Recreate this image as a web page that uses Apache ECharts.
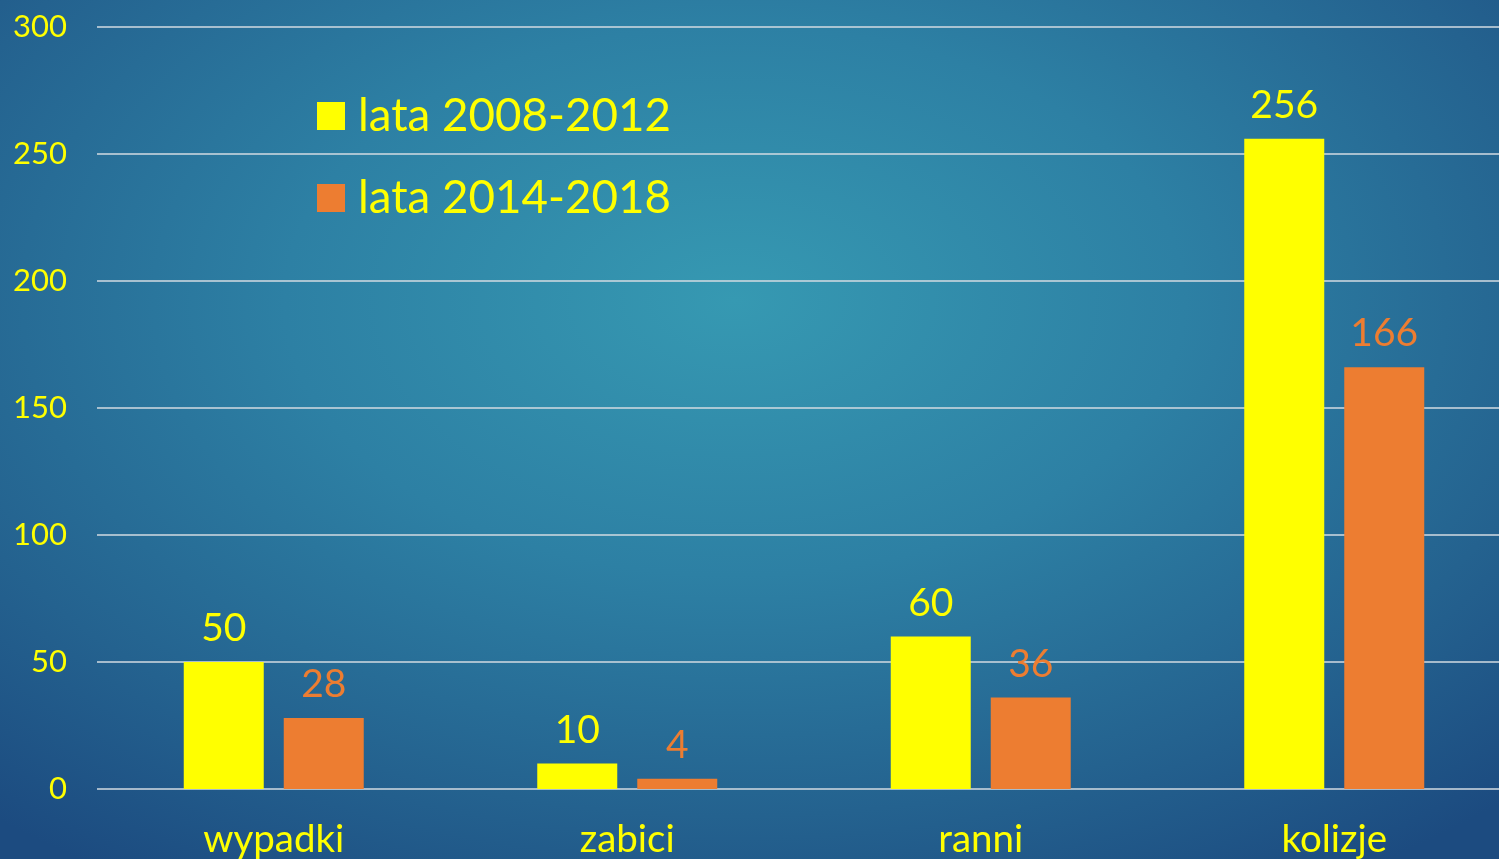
<!DOCTYPE html>
<html>
<head>
<meta charset="utf-8">
<script src="https://cdn.jsdelivr.net/npm/echarts@6/dist/echarts.min.js"></script>
<style>
  html, body { margin: 0; padding: 0; }
  #chart {
    width: 1499px; height: 859px;
    background: radial-gradient(ellipse 75% 80% at 49% 35%, #3699b2 0%, #2d80a4 40%, #24628f 75%, #1c4b80 100%);
  }
</style>
</head>
<body>
<div id="chart"></div>
<script>
// dane
const categories = ["wypadki", "zabici", "ranni", "kolizje"];
const seriesNames = ["lata 2008-2012", "lata 2014-2018"];
const values2008 = [50, 10, 60, 256];
const values2014 = [28, 4, 36, 166];
const yTicks = { min: 0, max: 300, interval: 50 };

const myChart = echarts.init(document.getElementById("chart"));
const font = "Lato";

const option = {
  textStyle: { fontFamily: font },
  animation: false,
  legend: {
    orient: "vertical",
    left: 317,
    top: 93,
    padding: 0,
    itemWidth: 28,
    itemHeight: 28,
    itemGap: 36,
    icon: "rect",
    data: seriesNames,
    textStyle: { color: "#ffff00", fontSize: 45.7, fontFamily: font, padding: [0, 0, 0, 8] }
  },
  grid: { left: 97, width: 1414, top: 27, bottom: 70, outerBoundsMode: "none" },
  xAxis: {
    type: "category",
    data: categories,
    axisLine: { show: false },
    axisTick: { show: false },
    axisLabel: { color: "#ffff00", fontSize: 38.5, fontFamily: font, margin: 31 }
  },
  yAxis: {
    type: "value",
    min: yTicks.min,
    max: yTicks.max,
    interval: yTicks.interval,
    axisLine: { show: false },
    axisTick: { show: false },
    axisLabel: { color: "#ffff00", fontSize: 31, fontFamily: font, margin: 30 },
    splitLine: { lineStyle: { color: "#d3dbe2", width: 1.5 } }
  },
  series: [
    {
      name: seriesNames[0],
      type: "bar",
      data: values2008,
      barWidth: 80,
      barGap: "25%",
      itemStyle: { color: "#ffff00" },
      label: { show: true, position: "top", distance: 14, color: "#ffff00", fontSize: 39, fontFamily: font }
    },
    {
      name: seriesNames[1],
      type: "bar",
      data: values2014,
      barWidth: 80,
      itemStyle: { color: "#ed7d31" },
      label: { show: true, position: "top", distance: 14, color: "#ed7d31", fontSize: 39, fontFamily: font }
    }
  ]
};
myChart.setOption(option);
window.addEventListener("resize", () => myChart.resize());
</script>
</body>
</html>
